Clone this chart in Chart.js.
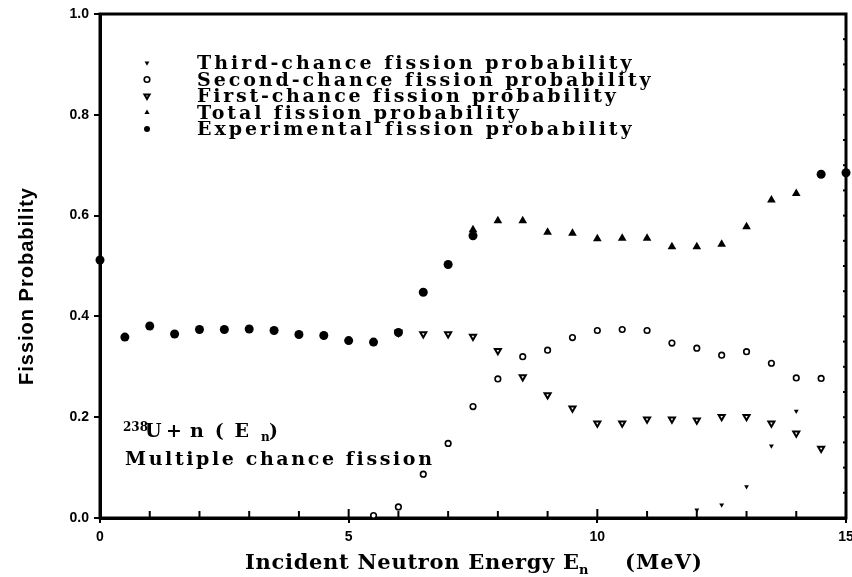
<!DOCTYPE html>
<html>
<head>
<meta charset="utf-8">
<script src="https://cdn.jsdelivr.net/npm/chart.js@4.4.1/dist/chart.umd.min.js"></script>
<style>
    html, body { margin: 0; padding: 0; background: #fff; }
    canvas { display: block; }
</style>
</head>
<body>
<canvas id="fissionChart" width="852" height="577"></canvas>
<script>
// values (energy in MeV, probability)
const expEnergy = [0, 0.5, 1, 1.5, 2, 2.5, 3, 3.5, 4, 4.5, 5, 5.5, 6, 6.5, 7, 7.5, 14.5, 15];
const expProb = [0.512, 0.359, 0.381, 0.365, 0.374, 0.374, 0.375, 0.372, 0.364, 0.362, 0.352, 0.349, 0.368, 0.448, 0.503, 0.56, 0.682, 0.685];

const totalEnergy = [7.5, 8, 8.5, 9, 9.5, 10, 10.5, 11, 11.5, 12, 12.5, 13, 13.5, 14];
const totalProb = [0.572, 0.59, 0.59, 0.567, 0.565, 0.554, 0.555, 0.555, 0.538, 0.538, 0.543, 0.578, 0.631, 0.644];

const firstEnergy = [6, 6.5, 7, 7.5, 8, 8.5, 9, 9.5, 10, 10.5, 11, 11.5, 12, 12.5, 13, 13.5, 14, 14.5];
const firstProb = [0.368, 0.365, 0.365, 0.36, 0.332, 0.28, 0.244, 0.218, 0.188, 0.188, 0.196, 0.196, 0.194, 0.201, 0.201, 0.188, 0.168, 0.138];

const secondEnergy = [5.5, 6, 6.5, 7, 7.5, 8, 8.5, 9, 9.5, 10, 10.5, 11, 11.5, 12, 12.5, 13, 13.5, 14, 14.5];
const secondProb = [0.005, 0.022, 0.087, 0.148, 0.221, 0.276, 0.32, 0.333, 0.358, 0.372, 0.374, 0.372, 0.347, 0.337, 0.323, 0.33, 0.307, 0.278, 0.277];

const thirdEnergy = [12, 12.5, 13, 13.5, 14];
const thirdProb = [0.016, 0.026, 0.062, 0.143, 0.212];

const legendLabels = [
    "Third-chance fission probability",
    "Second-chance fission probability",
    "First-chance fission probability",
    "Total fission probability",
    "Experimental fission probability"
];

const toPoints = (xs, ys) => xs.map((x, i) => ({ x: x, y: ys[i] }));

const markers = {
    exp: { pointStyle: "circle", radius: 4.5, rotation: 0, fill: "#000", borderWidth: 0 },
    total: { pointStyle: "triangle", radius: 5, rotation: 0, fill: "#000", borderWidth: 0 },
    first: { pointStyle: "triangle", radius: 3.5, rotation: 180, fill: "#fff", borderWidth: 2 },
    second: { pointStyle: "circle", radius: 2.8, rotation: 0, fill: "#fff", borderWidth: 1.6 },
    third: { pointStyle: "triangle", radius: 2.8, rotation: 180, fill: "#000", borderWidth: 0 }
};

function makeDataset(label, xs, ys, m) {
    return {
        label: label,
        data: toPoints(xs, ys),
        pointStyle: m.pointStyle,
        pointRadius: m.radius,
        pointRotation: m.rotation,
        pointBackgroundColor: m.fill,
        pointBorderColor: "#000",
        pointBorderWidth: m.borderWidth,
        showLine: false,
        clip: false
    };
}

// stretch a string to the width it has in the scan, mostly through letter spacing
function fitText(ctx, str, x, y, target) {
    if ("letterSpacing" in ctx) ctx.letterSpacing = "0px";
    const w = ctx.measureText(str).width;
    if ("letterSpacing" in ctx) {
        ctx.letterSpacing = ((target - w) / str.length) + "px";
        ctx.fillText(str, x, y);
        ctx.letterSpacing = "0px";
    } else {
        ctx.save();
        ctx.translate(x, y);
        ctx.scale(target / w, 1);
        ctx.fillText(str, 0, 0);
        ctx.restore();
    }
}

const frame = {
    id: "frame",
    beforeDatasetsDraw(chart) {
        const { ctx, chartArea: a, scales: { x, y } } = chart;
        ctx.save();
        ctx.strokeStyle = "#000";
        ctx.lineWidth = 3;
        ctx.strokeRect(a.left, a.top, a.right - a.left, a.bottom - a.top);
        // inward minor ticks on the energy axis
        ctx.lineWidth = 2;
        for (let e = 1; e < 15; e++) {
            const px = x.getPixelForValue(e);
            ctx.beginPath();
            ctx.moveTo(px, a.bottom);
            ctx.lineTo(px, a.bottom - (e % 5 === 0 ? 9 : 7));
            ctx.stroke();
        }
        // small ticks along the right edge
        for (let i = 1; i < 20; i++) {
            const py = y.getPixelForValue(i * 0.05);
            ctx.beginPath();
            ctx.moveTo(a.right, py);
            ctx.lineTo(a.right - 3, py);
            ctx.stroke();
        }
        ctx.restore();
    }
};

const texts = {
    id: "texts",
    afterDraw(chart) {
        const ctx = chart.ctx;
        ctx.save();
        ctx.fillStyle = "#000";
        ctx.textBaseline = "alphabetic";
        ctx.textAlign = "left";

        // legend
        const rowBase = [69, 85.5, 102, 118.5, 135];
        const rowWidth = [436, 455, 420, 323, 436];
        const rowMarker = [markers.third, markers.second, markers.first, markers.total, markers.exp];
        ctx.font = 'bold 19px "DejaVu Serif"';
        legendLabels.forEach((label, i) => {
            fitText(ctx, label, 197, rowBase[i], rowWidth[i]);
            const m = rowMarker[i];
            ctx.fillStyle = m.fill;
            ctx.strokeStyle = "#000";
            ctx.lineWidth = m.borderWidth;
            const opts = { pointStyle: m.pointStyle, rotation: m.rotation, radius: Math.min(m.radius, 3), borderWidth: m.borderWidth ? 1.4 : 0 };
            if (Chart.helpers && Chart.helpers.drawPoint) {
                Chart.helpers.drawPoint(ctx, opts, 147, rowBase[i] - 6);
            }
            ctx.fillStyle = "#000";
        });

        // reaction annotation
        ctx.font = 'bold 12px "DejaVu Serif"';
        ctx.fillText("238", 123, 431);
        ctx.font = 'bold 19px "DejaVu Serif"';
        ctx.fillText("U", 145, 437);
        ctx.fillText("+", 166, 437);
        fitText(ctx, "n(E", 190, 437, 70);
        ctx.font = 'bold 12px "DejaVu Serif"';
        ctx.fillText("n", 261, 441);
        ctx.font = 'bold 19px "DejaVu Serif"';
        ctx.fillText(")", 269, 437);
        fitText(ctx, "Multiple chance fission", 125, 465, 308);

        // x axis title
        ctx.font = 'bold 21px "DejaVu Serif"';
        fitText(ctx, "Incident Neutron Energy", 245, 569, 310);
        ctx.fillText("E", 563, 569);
        ctx.font = 'bold 13px "DejaVu Serif"';
        ctx.fillText("n", 579, 574);
        ctx.font = 'bold 21px "DejaVu Serif"';
        fitText(ctx, "(MeV)", 625, 569, 78);

        // y axis title
        ctx.translate(33, 385);
        ctx.rotate(-Math.PI / 2);
        ctx.font = 'bold 20px "Liberation Sans"';
        fitText(ctx, "Fission Probability", 0, 0, 198);
        ctx.restore();
    }
};

document.addEventListener("DOMContentLoaded", function () {
    const ctx = document.getElementById("fissionChart").getContext("2d");
    const tickFont = { family: "Liberation Sans", size: 14, weight: "bold" };

    new Chart(ctx, {
        type: "scatter",
        data: {
            datasets: [
                makeDataset(legendLabels[4], expEnergy, expProb, markers.exp),
                makeDataset(legendLabels[3], totalEnergy, totalProb, markers.total),
                makeDataset(legendLabels[2], firstEnergy, firstProb, markers.first),
                makeDataset(legendLabels[1], secondEnergy, secondProb, markers.second),
                makeDataset(legendLabels[0], thirdEnergy, thirdProb, markers.third)
            ]
        },
        options: {
            responsive: false,
            animation: false,
            layout: { padding: { top: 14, right: 3, left: 0, bottom: 0 } },
            plugins: {
                legend: { display: false },
                tooltip: { enabled: false }
            },
            scales: {
                x: {
                    type: "linear",
                    min: 0,
                    max: 15,
                    afterFit: s => { s.height = 59; s.paddingLeft = 0; s.paddingRight = 0; },
                    ticks: { stepSize: 5, color: "#000", font: tickFont, padding: 6, maxRotation: 0 },
                    grid: { drawOnChartArea: false, drawTicks: true, tickLength: 5, color: "#000", lineWidth: 2 },
                    border: { display: true, color: "#000", width: 3 }
                },
                y: {
                    min: 0,
                    max: 1,
                    afterFit: s => { s.width = 100; s.paddingTop = 0; s.paddingBottom = 0; },
                    ticks: { stepSize: 0.2, color: "#000", font: tickFont, padding: 5, callback: v => v.toFixed(1) },
                    grid: { drawOnChartArea: false, drawTicks: true, tickLength: 6, color: "#000", lineWidth: 2 },
                    border: { display: true, color: "#000", width: 3 }
                }
            }
        },
        plugins: [frame, texts]
    });
});
</script>
</body>
</html>
